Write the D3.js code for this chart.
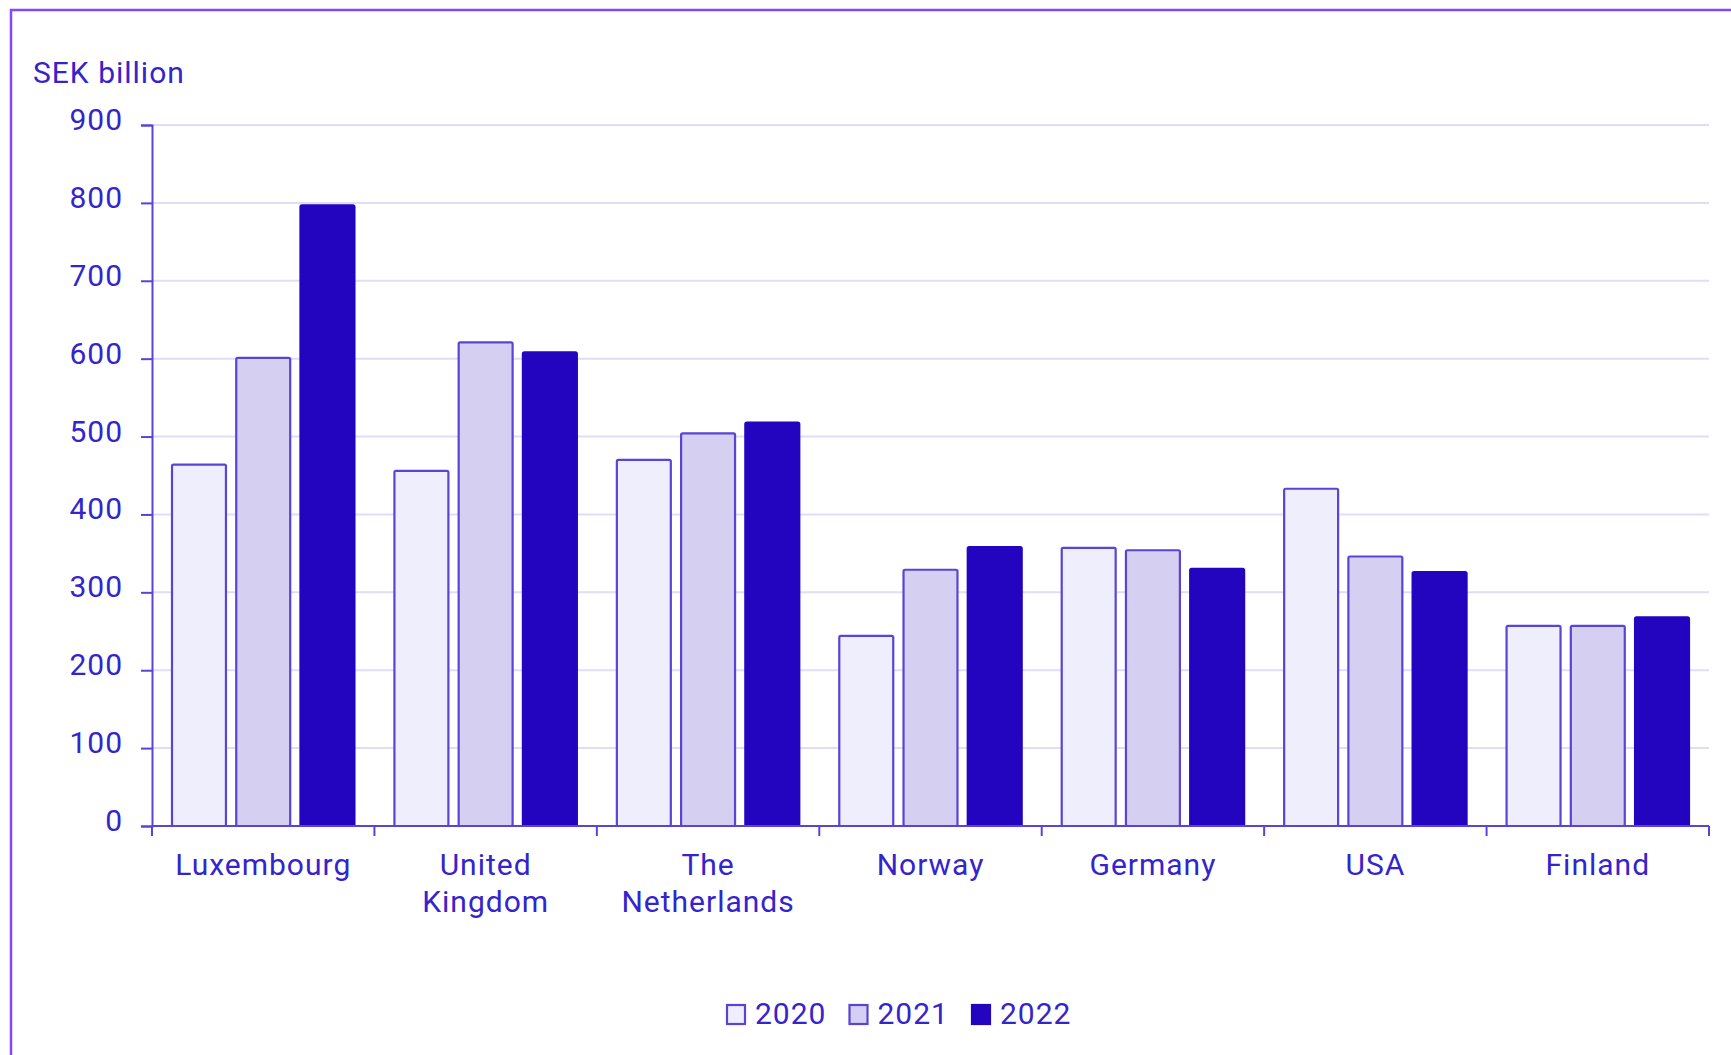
<script src="https://d3js.org/d3.v7.min.js"></script>

<style>
  body { margin: 0; background: #fff; }
  text { font-family: Roboto, "Noto Sans", sans-serif; fill: #3424cc; letter-spacing: 1px; }
</style>

<svg id="vis"></svg>

<script>
  var countries = [['Luxembourg'], ['United', 'Kingdom'], ['The', 'Netherlands'], ['Norway'], ['Germany'], ['USA'], ['Finland']]
  var years = ['2020', '2021', '2022']
  var values2020 = [464, 456, 470, 244, 357, 433, 257]
  var values2021 = [601, 621, 504, 329, 354, 346, 257]
  var values2022 = [797, 608, 518, 358, 330, 326, 268]
  var yTicks = [0, 100, 200, 300, 400, 500, 600, 700, 800, 900]

  var fills = ['#efeefd', '#d5cff2', '#2305c0']
  var strokes = ['#5a44d6', '#5a44d6', '#2305c0']

  var width = 1731
  var height = 1055

  var svg = d3.select('#vis')
    .attr('width', width)
    .attr('height', height)

  // frame
  svg.append('rect')
    .attr('x', 11).attr('y', 10)
    .attr('width', 1800).attr('height', 1200)
    .attr('fill', 'none')
    .attr('stroke', '#8447ff')
    .attr('stroke-width', 2.5)

  var names = countries.map(function(c) { return c.join(' ') })
  var series = [values2020, values2021, values2022]

  // Scale
  var y_scale = d3.scaleLinear()
    .domain([0, 900])
    .range([826, 125])

  var x0 = d3.scaleBand()
    .domain(names)
    .range([152, 1709])

  var x1 = d3.scaleBand()
    .domain(years)
    .range([20, x0.bandwidth() - 20])
    .paddingInner(0.16)

  // grid
  svg.append('g')
    .selectAll('line')
    .data(yTicks.slice(1))
    .enter().append('line')
      .attr('x1', 152).attr('x2', 1709)
      .attr('y1', function(d) { return y_scale(d) })
      .attr('y2', function(d) { return y_scale(d) })
      .attr('stroke', '#e1ddf7')
      .attr('stroke-width', 2)

  // bars
  var groups = svg.selectAll('g.group')
    .data(names)
    .enter().append('g')
      .attr('class', 'group')
      .attr('transform', function(d) { return 'translate(' + x0(d) + ',0)' })

  groups.selectAll('rect')
    .data(function(d, i) { return years.map(function(yr, j) { return {year: yr, j: j, v: series[j][i]} }) })
    .enter().append('rect')
      .attr('x', function(d) { return x1(d.year) })
      .attr('width', x1.bandwidth())
      .attr('y', function(d) { return y_scale(d.v) })
      .attr('height', function(d) { return y_scale(0) - y_scale(d.v) })
      .attr('rx', 1.5)
      .attr('fill', function(d) { return fills[d.j] })
      .attr('stroke', function(d) { return strokes[d.j] })
      .attr('stroke-width', 2.2)

  // Axes
  var y_axis = d3.axisLeft(y_scale)
    .tickValues(yTicks)
    .tickSize(11)
    .tickPadding(18)

  var gy = svg.append('g')
    .attr('transform', 'translate(152,0)')
    .call(y_axis)
  gy.selectAll('path, line').attr('stroke', '#5a44d6').attr('stroke-width', 2)
  gy.selectAll('text').attr('font-size', 30).attr('dy', '0.15em').style('fill', '#3424cc')

  // x axis line and group boundary ticks
  var bounds = names.map(function(d) { return x0(d) }).concat([x0.range()[1]])
  var gx = svg.append('g')
  gx.append('line')
    .attr('x1', 152).attr('x2', 1709)
    .attr('y1', y_scale(0)).attr('y2', y_scale(0))
    .attr('stroke', '#5a44d6').attr('stroke-width', 2.2)
  gx.selectAll('line.tick')
    .data(bounds)
    .enter().append('line')
      .attr('class', 'tick')
      .attr('x1', function(d) { return d }).attr('x2', function(d) { return d })
      .attr('y1', y_scale(0)).attr('y2', y_scale(0) + 10)
      .attr('stroke', '#5a44d6').attr('stroke-width', 2)

  gx.selectAll('text')
    .data(countries)
    .enter().append('text')
      .attr('text-anchor', 'middle')
      .attr('font-size', 30)
      .attr('transform', function(d, i) { return 'translate(' + (x0(names[i]) + x0.bandwidth() / 2) + ',875)' })
      .selectAll('tspan')
      .data(function(d) { return d })
      .enter().append('tspan')
        .attr('x', 0)
        .attr('y', function(d, i) { return i * 37 })
        .text(function(d) { return d })

  // y title
  svg.append('text')
    .attr('x', 33).attr('y', 83)
    .attr('font-size', 30)
    .text('SEK billion')

  // legend
  var legend = svg.selectAll('g.legend')
    .data(years)
    .enter().append('g')
      .attr('class', 'legend')
      .attr('transform', function(d, i) { return 'translate(' + (727 + i * 122.5) + ',0)' })

  legend.append('rect')
    .attr('x', 0).attr('y', 1005)
    .attr('width', 18).attr('height', 19)
    .attr('fill', function(d, i) { return fills[i] })
    .attr('stroke', function(d, i) { return strokes[i] })
    .attr('stroke-width', 2.2)

  legend.append('text')
    .attr('x', 28).attr('y', 1024)
    .attr('font-size', 30)
    .text(function(d) { return d })
</script>
